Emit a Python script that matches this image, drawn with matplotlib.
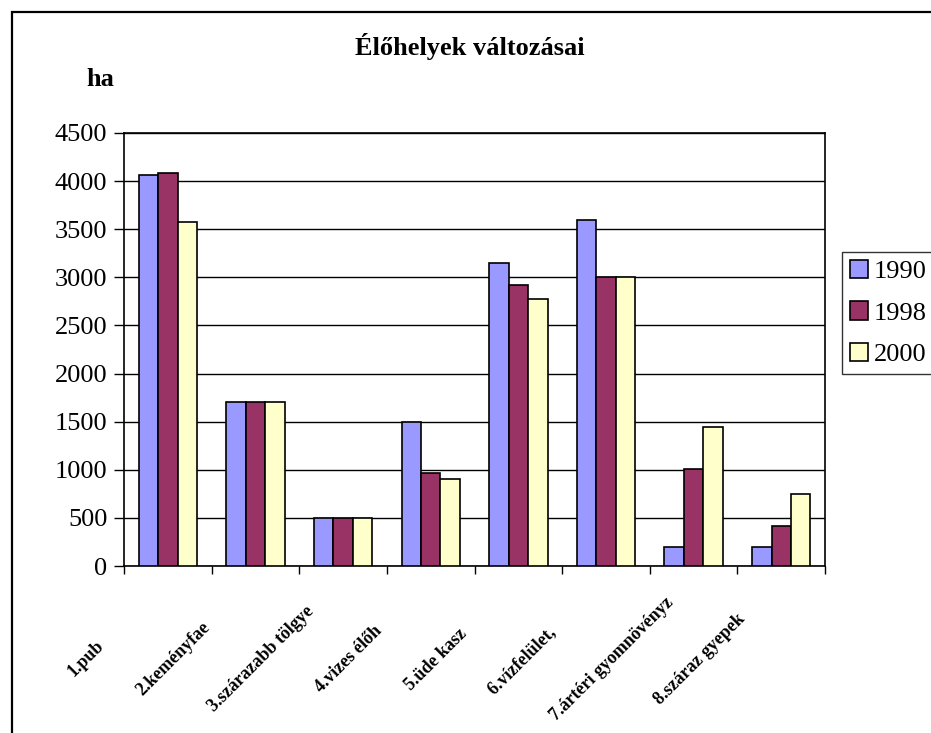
import numpy as np
import matplotlib.pyplot as plt
from matplotlib.patches import Rectangle
from matplotlib.transforms import offset_copy

categories = ['1.pub', '2.keményfae', '3.szárazabb tölgye', '4.vizes élőh',
              '5.üde kasz', '6.vízfelület, ', '7.ártéri gyomnövényz', '8.száraz gyepek']
years = ['1990', '1998', '2000']
ha_1990 = [4060, 1700, 500, 1500, 3150, 3600, 200, 200]
ha_1998 = [4080, 1700, 500, 970, 2920, 3000, 1010, 420]
ha_2000 = [3570, 1700, 500, 900, 2770, 3000, 1440, 750]
colors = ['#9999FF', '#993366', '#FFFFCC']

plt.rcParams['font.family'] = ['Liberation Serif', 'DejaVu Serif']

fig = plt.figure(figsize=(9.31, 7.33), dpi=100)
ax = fig.add_axes([0.1332, 0.2278, 0.753, 0.5908])

# outer chart frame, runs off the right and bottom edges
fig.patches.append(Rectangle((11.5 / 931, -0.1), 1.2, 1 - 11.5 / 733 + 0.1,
                             transform=fig.transFigure, fill=False,
                             edgecolor='black', linewidth=1.6))

x = np.arange(len(categories))
w = 0.222
for i, (vals, c, lab) in enumerate(zip([ha_1990, ha_1998, ha_2000], colors, years)):
    ax.bar(x + (i - 1) * w, vals, w, color=c, edgecolor='black', linewidth=1.2,
           label=lab, zorder=3)

ax.set_xlim(-0.5, len(categories) - 0.5)
ax.set_ylim(0, 4500)
ax.set_yticks(np.arange(0, 4501, 500))
ax.yaxis.grid(True, color='black', linewidth=1.0, zorder=0)
ax.set_axisbelow(True)
ax.tick_params(axis='y', labelsize=19, length=7, width=1, direction='out', pad=5)
ax.set_xticks(np.arange(len(categories) + 1) - 0.5)
ax.set_xticklabels([])
ax.tick_params(axis='x', length=6, width=1, direction='out')
for s in ax.spines.values():
    s.set_linewidth(1.2)

# rotated category labels below each group
trans = offset_copy(ax.get_xaxis_transform(), fig=fig, x=-82, y=0, units='dots')
for xi, name in zip(x, categories):
    ax.text(xi, -0.215, name, transform=trans, rotation=45, fontsize=13,
            fontweight='bold', ha='center', va='center', rotation_mode='anchor',
            clip_on=False)

fig.text(470 / 931, 1 - 47 / 733, 'Élőhelyek változásai', fontsize=19,
         fontweight='bold', ha='center', va='center')
fig.text(100 / 931, 1 - 80 / 733, 'ha', fontsize=19, fontweight='bold',
         ha='center', va='center')

leg = ax.legend(loc='upper left', bbox_to_anchor=(842 / 931, 1 - 252 / 733),
                bbox_transform=fig.transFigure, fontsize=19, frameon=True,
                fancybox=False, edgecolor='black', handlelength=0.7,
                handleheight=0.7, handletextpad=0.2, labelspacing=0.68,
                borderpad=0.3, borderaxespad=0)
leg.get_frame().set_linewidth(1.0)

fig.savefig('out.png', dpi=100)
